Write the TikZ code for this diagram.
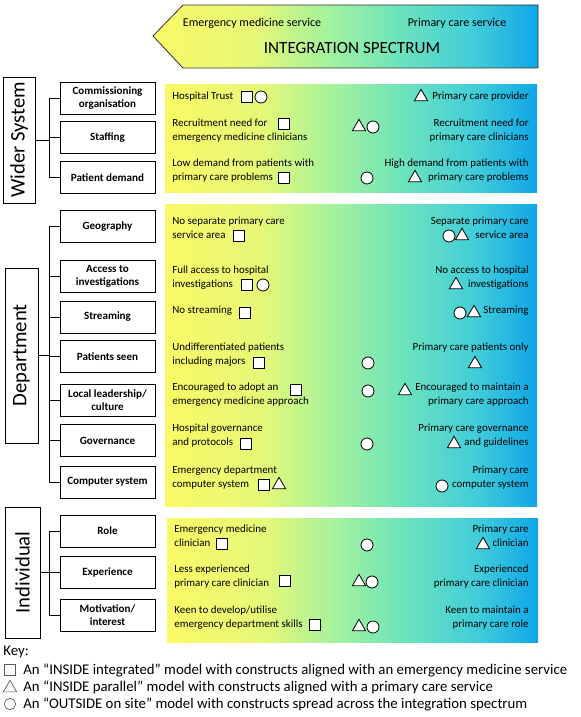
\documentclass[tikz,border=0pt]{standalone}
\usepackage{fontspec}
\setmainfont{Carlito}
\usetikzlibrary{shapes.geometric}
\usetikzlibrary{positioning}

\definecolor{specY}{HTML}{FAFA66}
\definecolor{specL}{HTML}{E6F877}
\definecolor{specG}{HTML}{A2F29E}
\definecolor{specT}{HTML}{6CE3BC}
\definecolor{specC}{HTML}{40CCDA}
\definecolor{specB}{HTML}{0EA6E8}
\pgfdeclarehorizontalshading{spectrum}{100bp}{color(0bp)=(specY); color(25bp)=(specY);
  color(38bp)=(specL); color(48bp)=(specG); color(57bp)=(specT);
  color(67bp)=(specC); color(75bp)=(specB); color(100bp)=(specB)}

\begin{document}
\begin{tikzpicture}[x=0.75pt, y=-0.75pt, line width=0.6pt,
            grp/.style = {draw, inner sep=0pt, font=\fontsize{15.5}{18}\selectfont},
            factor/.style = {draw, minimum width=71.25pt, minimum height=24pt,
                inner sep=1pt, align=center, font=\fontsize{8.3}{9.8}\selectfont\bfseries},
            ltxt/.style = {anchor=west, align=left, inner sep=0pt,
                font=\fontsize{8.2}{10.5}\selectfont},
            rtxt/.style = {anchor=east, align=right, inner sep=0pt,
                font=\fontsize{8.2}{10.5}\selectfont},
            sq/.style = {draw, fill=white, minimum size=8pt, inner sep=0pt},
            tri/.style = {draw, fill=white, regular polygon, regular polygon sides=3,
                minimum size=11.5pt, inner sep=0pt},
            circ/.style = {draw, fill=white, circle, minimum size=9pt, inner sep=0pt},
            keytxt/.style = {anchor=west, inner sep=0pt, font=\fontsize{11.1}{13}\selectfont},
            keysym/.style = {draw=black!65, line width=0.5pt, inner sep=0pt}]
  \useasboundingbox (0,0) rectangle (581,717);

  % spectrum arrow and panels
  \path[shading=spectrum, draw=black!80] (153,36) -- (183,5) -- (538,5) -- (538,68) -- (183,68) -- cycle;
  \node[font=\fontsize{9}{10}\selectfont] (ems) at (252,23) {Emergency medicine service};
  \node[font=\fontsize{9}{10}\selectfont] (pcs) at (457,23) {Primary care service};
  \node[font=\fontsize{12.8}{14}\selectfont] (spectrum) at (352,48) {INTEGRATION SPECTRUM};
  \path[shading=spectrum] (165,85) rectangle (537,192);
  \path[shading=spectrum] (165,204) rectangle (537,506);
  \path[shading=spectrum] (167,518) rectangle (538,642);

  % levels
  \node[grp, minimum width=24pt, minimum height=94.5pt] (wider) at (19,140) {\rotatebox{90}{Wider System}};
  \node[grp, minimum width=24.75pt, minimum height=131.25pt] (dept) at (21.5,355.5) {\rotatebox{90}{Department}};
  \node[grp, minimum width=26.25pt, minimum height=98.25pt] (indiv) at (22.5,572.5) {\rotatebox{90}{Individual}};

  % constructs
  \node[factor] (commis) at (107.5,98) {Commissioning\\organisation};
  \node[factor] (staff) at (107.5,137.5) {Staffing};
  \node[factor] (demand) at (107.5,177.5) {Patient demand};
  \node[factor] (geog) at (107.5,226.5) {Geography};
  \node[factor] (access) at (107.5,276) {Access to\\investigations};
  \node[factor] (stream) at (107.5,317) {Streaming};
  \node[factor] (seen) at (107.5,356.5) {Patients seen};
  \node[factor] (lead) at (107.5,400.5) {Local leadership/\\culture};
  \node[factor] (gov) at (107.5,440.5) {Governance};
  \node[factor] (comp) at (107.5,482) {Computer system};
  \node[factor] (role) at (107.5,531) {Role};
  \node[factor] (exper) at (107.5,572) {Experience};
  \node[factor] (motiv) at (107.5,615) {Motivation/\\interest};

  % brackets
  \coordinate (bus) at (49,0);
  \draw (wider.east) -- (wider.east -| bus);
  \draw (commis.west) -- (commis.west -| bus) -- (demand.west -| bus) -- (demand.west);
  \draw (staff.west) -- (staff.west -| bus);
  \draw (dept.east) -- (dept.east -| bus);
  \draw (geog.west) -- (geog.west -| bus) -- (comp.west -| bus) -- (comp.west);
  \foreach \f in {access,stream,seen,lead,gov}
    \draw (\f.west) -- (\f.west -| bus);
  \draw (indiv.east) -- (indiv.east -| bus);
  \draw (role.west) -- (role.west -| bus) -- (motiv.west -| bus) -- (motiv.west);
  \draw (exper.west) -- (exper.west -| bus);

  % wider system
  \node[ltxt] (trust) at (172,97) {Hospital Trust};
  \node[sq] (trust-sq) at (247,97) {};
  \node[circ] (trust-ci) at (261,97) {};
  \node[rtxt] (provider) at (529,97) {Primary care provider};
  \node[tri] (provider-tr) at (421,97) {};
  \node[ltxt] (recem) at (172,131) {Recruitment need for\\emergency medicine clinicians};
  \node[sq] (recem-sq) at (284,124) {};
  \node[tri] (rec-tr) at (359,127) {};
  \node[circ] (rec-ci) at (373,127) {};
  \node[rtxt] (recpc) at (529,131) {Recruitment need for\\primary care clinicians};
  \node[ltxt] (lowdem) at (172,170.5) {Low demand from patients with\\primary care problems};
  \node[sq] (lowdem-sq) at (284,178) {};
  \node[circ] (dem-ci) at (367,178) {};
  \node[rtxt] (highdem) at (529,170.5) {High demand from patients with\\primary care problems};
  \node[tri] (highdem-tr) at (415,178) {};

  % department
  \node[ltxt] (nosep) at (172,228) {No separate primary care\\service area};
  \node[sq] (nosep-sq) at (239,236) {};
  \node[rtxt] (sep) at (529,228) {Separate primary care\\service area};
  \node[circ] (sep-ci) at (449,236) {};
  \node[tri] (sep-tr) at (462,236) {};
  \node[ltxt] (fullacc) at (172,277.5) {Full access to hospital\\investigations};
  \node[sq] (fullacc-sq) at (247,285) {};
  \node[circ] (fullacc-ci) at (263,285) {};
  \node[rtxt] (noacc) at (529,277.5) {No access to hospital\\investigations};
  \node[tri] (noacc-tr) at (456,285) {};
  \node[ltxt] (nostream) at (172,311) {No streaming};
  \node[sq] (nostream-sq) at (245,313) {};
  \node[rtxt] (streaming) at (529,311) {Streaming};
  \node[circ] (streaming-ci) at (460,313) {};
  \node[tri] (streaming-tr) at (474,313) {};
  \node[ltxt] (undiff) at (172,355) {Undifferentiated patients\\including majors};
  \node[sq] (undiff-sq) at (259,363) {};
  \node[circ] (seen-ci) at (368,363) {};
  \node[rtxt] (pconly) at (529,348) {Primary care patients only};
  \node[tri] (pconly-tr) at (475,364) {};
  \node[ltxt] (adopt) at (172,395) {Encouraged to adopt an\\emergency medicine approach};
  \node[sq] (adopt-sq) at (296,390) {};
  \node[circ] (lead-ci) at (368,391) {};
  \node[rtxt] (maintain) at (529,395) {Encouraged to maintain a\\primary care approach};
  \node[tri] (maintain-tr) at (405,391) {};
  \node[ltxt] (hospgov) at (172,436) {Hospital governance\\and protocols};
  \node[sq] (hospgov-sq) at (246,444) {};
  \node[circ] (gov-ci) at (367,444) {};
  \node[rtxt] (pcgov) at (529,436) {Primary care governance\\and guidelines};
  \node[tri] (pcgov-tr) at (454,444) {};
  \node[ltxt] (edcomp) at (172,478) {Emergency department\\computer system};
  \node[sq] (edcomp-sq) at (264,485) {};
  \node[tri] (edcomp-tr) at (279,485) {};
  \node[rtxt] (pccomp) at (529,478) {Primary care\\computer system};
  \node[circ] (pccomp-ci) at (442,486) {};

  % individual
  \node[ltxt] (emclin) at (174,536) {Emergency medicine\\clinician};
  \node[sq] (emclin-sq) at (222,544) {};
  \node[circ] (role-ci) at (367,545) {};
  \node[rtxt] (pcclin) at (529,536) {Primary care\\clinician};
  \node[tri] (pcclin-tr) at (483,545) {};
  \node[ltxt] (lessexp) at (174,577) {Less experienced\\primary care clinician};
  \node[sq] (lessexp-sq) at (285,581) {};
  \node[tri] (exper-tr) at (359,582) {};
  \node[circ] (exper-ci) at (372,582) {};
  \node[rtxt] (moreexp) at (529,577) {Experienced\\primary care clinician};
  \node[ltxt] (keendev) at (174,618) {Keen to develop/utilise\\emergency department skills};
  \node[sq] (keendev-sq) at (315,625) {};
  \node[tri] (motiv-tr) at (359,627) {};
  \node[circ] (motiv-ci) at (373,627) {};
  \node[rtxt] (keenmaint) at (529,618) {Keen to maintain a\\primary care role};

  % key
  \node[keytxt] (key) at (3,652) {Key:};
  \node[keysym, minimum size=8pt] (key-sq) at (10,670) {};
  \node[keysym, regular polygon, regular polygon sides=3, minimum size=11.5pt] (key-tr) at (10,688) {};
  \node[keysym, circle, minimum size=8.5pt] (key-ci) at (10,704) {};
  \node[keytxt] (key1) at (23,670) {An “INSIDE integrated” model with constructs aligned with an emergency medicine service};
  \node[keytxt] (key2) at (23,687) {An “INSIDE parallel” model with constructs aligned with a primary care service};
  \node[keytxt] (key3) at (23,704) {An “OUTSIDE on site” model with constructs spread across the integration spectrum};
\end{tikzpicture}
\end{document}
